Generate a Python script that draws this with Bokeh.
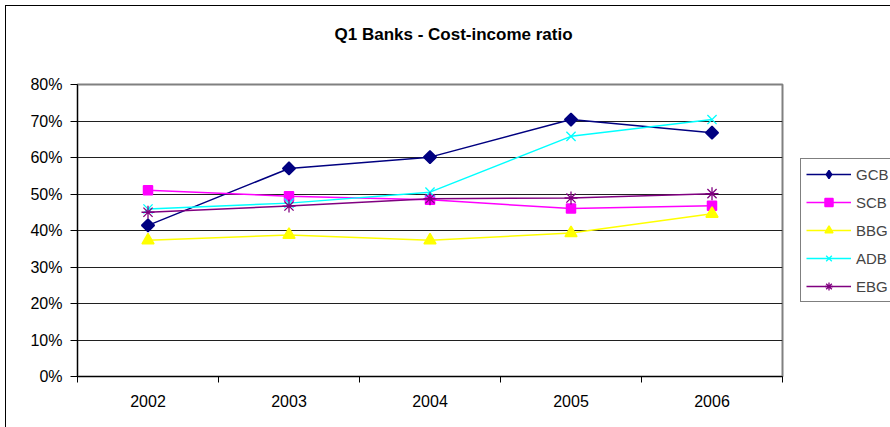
import math
from bokeh.plotting import figure
from bokeh.models import (FixedTicker, NumeralTickFormatter, Legend, LegendItem,
                          Range1d, ColumnDataSource)
from bokeh.embed import file_html
from bokeh.resources import INLINE

years = ["2002", "2003", "2004", "2005", "2006"]
gcb = [0.414, 0.570, 0.601, 0.704, 0.668]
scb = [0.510, 0.494, 0.484, 0.460, 0.468]
bbg = [0.373, 0.388, 0.373, 0.393, 0.446]
adb = [0.459, 0.475, 0.505, 0.658, 0.704]
ebg = [0.450, 0.467, 0.487, 0.489, 0.501]
y_ticks = [0, 0.1, 0.2, 0.3, 0.4, 0.5, 0.6, 0.7, 0.8]

FONT = "Liberation Sans"
FS = "16px"
xs = [i + 1 for i in range(len(years))]

p = figure(frame_width=705, frame_height=292, output_backend="svg", toolbar_location=None,
           x_range=Range1d(0.5, len(years) + 0.5), y_range=Range1d(0, 0.8),
           min_border_left=71, min_border_right=108, min_border_top=78,
           min_border_bottom=51, margin=(5, 0, 0, 5))
p.styles = {"border-left": "1px solid black", "border-top": "1px solid black"}
p.background_fill_color = "white"
p.border_fill_color = "white"
p.outline_line_color = "#808080"
p.outline_line_width = 2

p.title.text = "Q1 Banks - Cost-income ratio"
p.title.align = "left"
p.title.offset = 257
p.title.text_font = FONT
p.title.text_font_size = "17px"
p.title.text_font_style = "bold"
p.title.text_color = "black"
p.title.standoff = 0
p.title.padding = dict(left=0, right=0, top=0, bottom=41)

# axes
p.xaxis.ticker = FixedTicker(ticks=xs, minor_ticks=[i + 0.5 for i in range(len(years) + 1)])
p.xaxis.major_label_overrides = {x: y for x, y in zip(xs, years)}
p.xaxis.major_tick_out = 0
p.xaxis.major_tick_in = 0
p.xaxis.minor_tick_out = 6
p.xaxis.minor_tick_in = 0
p.xaxis.minor_tick_line_color = "black"
p.xaxis.axis_line_color = "black"
p.xaxis.major_label_standoff = 12
p.xaxis.major_label_text_font = FONT
p.xaxis.major_label_text_font_size = FS
p.xaxis.major_label_text_color = "black"

p.yaxis.ticker = FixedTicker(ticks=y_ticks, minor_ticks=[])
p.yaxis.formatter = NumeralTickFormatter(format="0%")
p.yaxis.major_tick_out = 7
p.yaxis.major_tick_in = 0
p.yaxis.major_tick_line_color = "black"
p.yaxis.axis_line_color = "black"
p.yaxis.major_label_standoff = 8
p.yaxis.major_label_text_font = FONT
p.yaxis.major_label_text_font_size = FS
p.yaxis.major_label_text_color = "black"

p.xgrid.visible = False
p.ygrid.ticker = FixedTicker(ticks=y_ticks[1:-1])
p.ygrid.grid_line_color = "#202020"
p.ygrid.grid_line_width = 1

series = [
    ("GCB", gcb, "#000080", "square", 9, math.pi / 4, 1.5),
    ("SCB", scb, "#FF00FF", "square", 9, 0, 1.5),
    ("BBG", bbg, "#FFFF00", "triangle", 12, 0, 1.5),
    ("ADB", adb, "#00FFFF", "x", 13, 0, 1.3),
    ("EBG", ebg, "#800080", "asterisk", 13, 0, 1.3),
]

items = []
for name, vals, color, marker, size, ang, mlw in series:
    src = ColumnDataSource(dict(x=xs, y=vals))
    r1 = p.line("x", "y", source=src, line_color=color, line_width=1.5)
    r2 = p.scatter("x", "y", source=src, marker=marker, size=size, angle=ang,
                   fill_color=color, line_color=color, line_width=mlw)
    if ang:
        # legend-only swatch (not drawn in the plot): the legend does not rotate markers
        r2 = p.scatter(x=[float("nan")], y=[float("nan")], marker="diamond", size=13,
                       fill_color=color, line_color=color, line_width=mlw)
    items.append(LegendItem(label=name, renderers=[r1, r2]))

legend = Legend(items=items, location=(18, 74), orientation="vertical")
legend.border_line_color = "black"
legend.border_line_width = 1
legend.background_fill_color = "white"
legend.label_text_font = FONT
legend.label_text_font_size = "15px"
legend.glyph_width = 45
legend.glyph_height = 20
legend.spacing = 8
legend.padding = 5
legend.margin = 0
legend.label_standoff = 5
legend.label_height = 20
p.add_layout(legend, "right")

open("out.html", "w").write(file_html(p, INLINE))
